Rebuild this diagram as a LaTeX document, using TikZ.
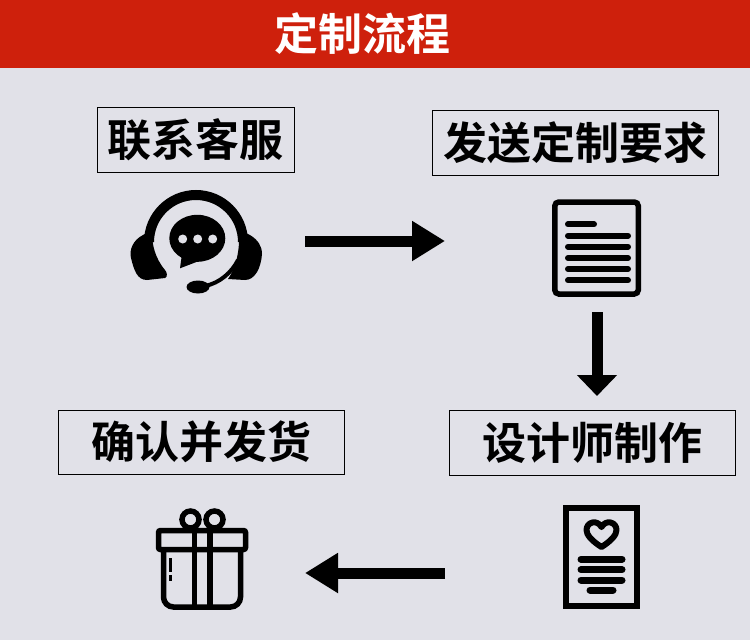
\documentclass[tikz,border=0pt]{standalone}
\usepackage{fontspec}
\setmainfont{Noto Sans CJK SC}[BoldFont={Noto Sans CJK SC Bold}]
\usetikzlibrary{arrows.meta}
\definecolor{pagegray}{HTML}{E1E1E8}
\definecolor{headred}{HTML}{CE200C}
\begin{document}
\begin{tikzpicture}[x=1pt,y=-1pt,
	stepbox/.style={draw=black,line width=1pt,inner sep=0pt,font=\fontsize{44}{46}\selectfont\bfseries,text=black},
	flow/.style={line width=11pt,-{Triangle[length=33pt,width=38pt]}},
	icon/.style={line width=5.5pt,black}]
		\useasboundingbox[fill=pagegray] (0,0) rectangle (750,640);
		\fill[headred] (0,0) rectangle (750,68);
		\node[text=white,font=\fontsize{44}{46}\selectfont\bfseries] (title) at (362,34) {定制流程};
		\node[stepbox,minimum width=197pt,minimum height=65pt] (contact) at (195.5,139.5) {联系客服};
		\node[stepbox,minimum width=286pt,minimum height=65pt] (send) at (575,142.5) {发送定制要求};
		\node[stepbox,minimum width=286pt,minimum height=65pt] (design) at (592,442.5) {设计师制作};
		\node[stepbox,minimum width=286pt,minimum height=64pt] (confirm) at (201,442) {确认并发货};
		% arrows
		\coordinate (a1) at (305,241);
		\coordinate (a2) at (445,241);
		\coordinate (b1) at (597,312);
		\coordinate (b2) at (597,396);
		\coordinate (c1) at (445,573);
		\coordinate (c2) at (305,573);
		\draw[flow] (a1) -- (a2);
		\draw[line width=11pt,-{Triangle[length=21pt,width=39pt]}] (b1) -- (b2);
		\draw[flow] (c1) -- (c2);
		% headset
		\draw[line width=10pt] (149,242) arc [start angle=180,end angle=360,x radius=47,y radius=47];
		\fill (143,235) .. controls (133,240) and (129,250) .. (131,258) .. controls (134,270) and (137,280) .. (147,280) -- (165,278) .. controls (168,277) and (167,272) .. (165,270) .. controls (155,258) and (152,245) .. (152,232) -- (148,232) -- cycle;
		\fill (250,235) .. controls (258,240) and (262,246) .. (262,254) .. controls (261,268) and (255,280) .. (245,280) -- (228,279) .. controls (236,268) and (240,250) .. (239,232) -- (244,232) -- cycle;
		\draw[line width=4pt] (238,260) .. controls (232,272) and (220,283) .. (205,286);
		\fill (198,287) ellipse [x radius=11.5,y radius=6.5];
		\fill (197.3,238.3) ellipse [x radius=28,y radius=23.5];
		\fill (181.7,256) -- (180,268.3) -- (199,261) -- cycle;
		\fill[pagegray] (182.7,239) circle [radius=4.5];
		\fill[pagegray] (197.7,239) circle [radius=4.5];
		\fill[pagegray] (212.7,239) circle [radius=4.5];
		% document
		\draw[icon,rounded corners=4pt] (554.8,202) rectangle (638.3,294);
		\draw[line width=6pt,line cap=round] (568,224.3) -- (594,224.3);
		\foreach \y in {235.7,246.7,258,269,280.3}
			\draw[line width=6pt,line cap=round] (568,\y) -- (628,\y);
		% card
		\draw[icon] (566,508) rectangle (637,606);
		\draw[line width=6pt,line join=round] (601.5,547) .. controls (592,541) and (586.5,535) .. (586.5,530) .. controls (586.5,522) and (597,519) .. (601.5,527) .. controls (606,519) and (616.5,522) .. (616.5,530) .. controls (616.5,535) and (611,541) .. (601.5,547) -- cycle;
		\foreach \y in {559.3,569.7,580}
			\draw[line width=7pt,line cap=round] (581,\y) -- (622,\y);
		\draw[line width=7pt,line cap=round] (590,590) -- (613,590);
		% gift
		\draw[line width=5.5pt] (190.5,519.5) circle [radius=8.5];
		\draw[line width=5.5pt] (214.5,519.5) circle [radius=8.5];
		\draw[icon,fill=pagegray,rounded corners=2pt] (158.5,530.5) rectangle (245.5,549.5);
		\draw[icon,rounded corners=10pt] (163.5,550) -- (163.5,607) -- (240.5,607) -- (240.5,550);
		\draw[line width=5.5pt] (194.3,530) -- (194.3,607);
		\draw[line width=5.5pt] (210,530) -- (210,607);
		\draw[line width=3pt] (170.7,558) -- (170.7,572);
		\draw[line width=3pt] (170.7,575) -- (170.7,581);
		\end{tikzpicture}
\end{document}
